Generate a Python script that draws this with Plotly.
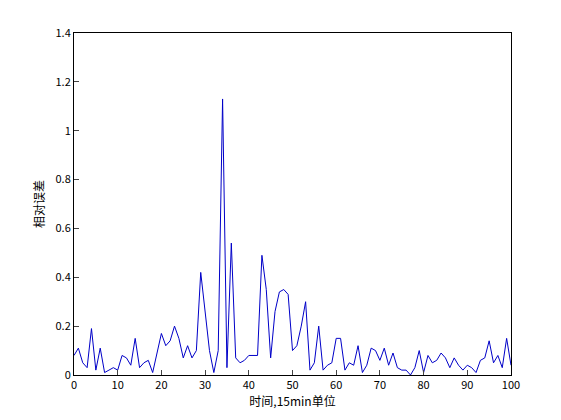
import plotly.graph_objects as go

x_vals = list(range(0, 101))
err_vals = [0.08, 0.11, 0.05, 0.03, 0.19, 0.02, 0.11, 0.01, 0.02, 0.03,
            0.02, 0.08, 0.07, 0.04, 0.15, 0.03, 0.05, 0.06, 0.01, 0.09,
            0.17, 0.12, 0.14, 0.20, 0.15, 0.07, 0.12, 0.07, 0.10, 0.42,
            0.25, 0.10, 0.01, 0.10, 1.13, 0.03, 0.54, 0.07, 0.05, 0.06,
            0.08, 0.08, 0.08, 0.49, 0.35, 0.07, 0.26, 0.34, 0.35, 0.33,
            0.10, 0.12, 0.20, 0.30, 0.02, 0.05, 0.20, 0.02, 0.04, 0.05,
            0.15, 0.15, 0.02, 0.05, 0.04, 0.12, 0.01, 0.04, 0.11, 0.10,
            0.06, 0.11, 0.04, 0.09, 0.03, 0.02, 0.02, 0.00, 0.03, 0.10,
            0.01, 0.08, 0.05, 0.06, 0.09, 0.07, 0.03, 0.07, 0.04, 0.02,
            0.04, 0.03, 0.01, 0.06, 0.07, 0.14, 0.05, 0.08, 0.03, 0.15, 0.04]

fig = go.Figure()
fig.add_trace(go.Scatter(x=x_vals, y=err_vals, mode='lines',
                         line=dict(color='#0000c8', width=1)))

axis_style = dict(showline=True, linecolor='black', mirror=True, ticks='inside',
                  ticklen=5, showgrid=False, zeroline=False,
                  tickfont=dict(size=11, color='black'))
fig.update_layout(
    width=561, height=420, showlegend=False,
    plot_bgcolor='white', paper_bgcolor='white',
    margin=dict(l=66, r=58, t=25, b=53),
    font=dict(family='Noto Sans CJK SC', color='black'),
    xaxis=dict(range=[0, 100], dtick=10,
               title=dict(text='时间,15min单位', font=dict(size=12), standoff=2),
               **axis_style),
    yaxis=dict(range=[0, 1.4], dtick=0.2, tickformat='~g',
               title=dict(text='相对误差', font=dict(size=12), standoff=8),
               **axis_style),
)
fig.write_html("out.html")
